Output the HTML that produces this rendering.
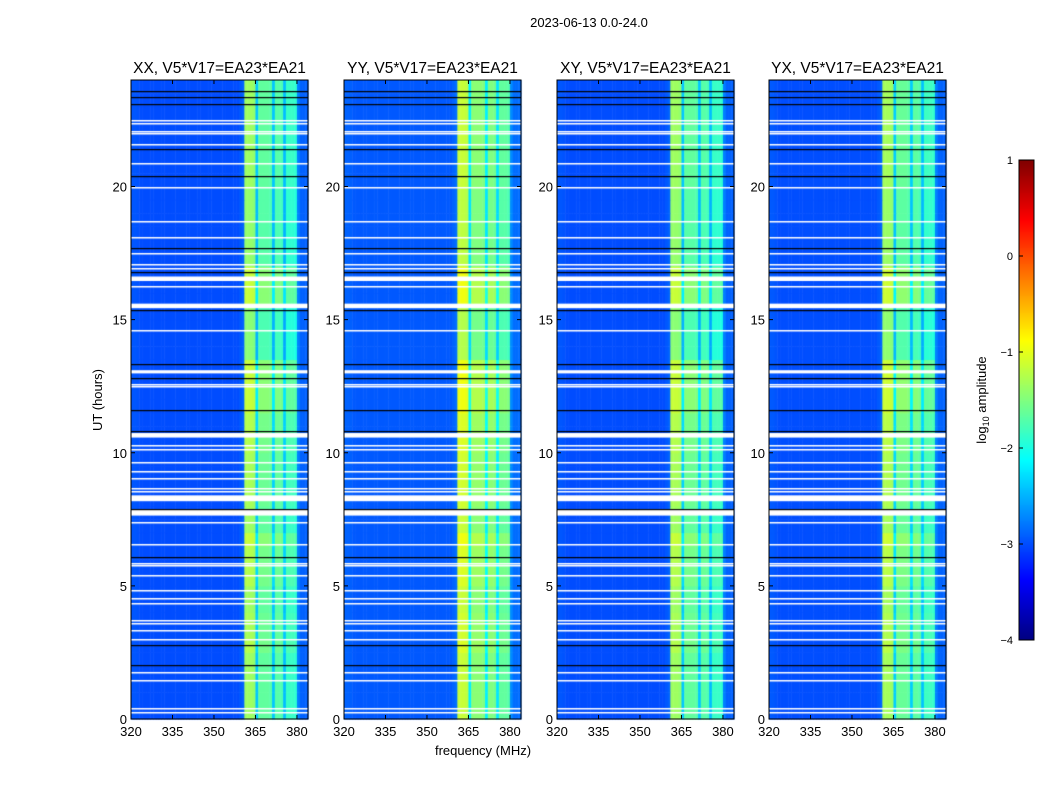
<!DOCTYPE html>
<html><head><meta charset="utf-8"><style>
body{margin:0;background:#fff;}
#wrap{position:relative;width:1050px;height:800px;overflow:hidden;font-family:"Liberation Sans",sans-serif;}
canvas,svg{position:absolute;left:0;top:0;}
</style></head><body>
<div id="wrap">
<canvas id="cv" width="1050" height="800"></canvas>
<svg id="sv" width="1050" height="800"></svg>
</div>
<script>
// ---- data ----
const panelTitles = ["XX, V5*V17=EA23*EA21","YY, V5*V17=EA23*EA21","XY, V5*V17=EA23*EA21","YX, V5*V17=EA23*EA21"];
const panelGain = [0, 0.2, 0, 0.03];
const freqStart = 320; // 1-MHz bins
const freqProfile = [
-2.95,-2.95,-2.97,-3.0,-3.0,-3.0,-3.0,-3.0,-3.0,-3.0,
-3.0,-3.0,-3.0,-3.0,-3.0,-3.0,-3.0,-3.0,-3.0,-3.0,
-3.0,-3.0,-3.0,-3.0,-3.0,-3.0,-3.0,-3.0,-3.0,-3.0,
-3.0,-3.0,-3.0,-3.0,-3.0,-3.0,-3.0,-3.0,-3.0,-2.95,
-2.9,-1.45,-1.45,-1.45,-1.5,-2.5,-1.75,-1.75,-1.75,-1.75,
-1.8,-2.5,-1.8,-1.8,-1.85,-2.55,-1.95,-1.95,-1.95,-2.0,
-2.75,-2.9,-2.9,-2.9];
const timeBoost = [0.1,0.1,0.1,0.1,0.1,0.2,0.15,0.15,0.1,0.1,0.2,0.2,0.2,0.3,0.1,0.1,0.15,0.15,0.15,0.15,0.2,0.2,0.2,0.3,0.3,0.3,0.3,0.0,0.0,0.0,0.0,0.3,0.3,0.3,0.05,0.05,0.05,0.05,0.05,0.05,0.1,0.1,0.1,0.1,0.1,0.1,0.1,0.1];
const flagRanges = [[16.45,16.62],[15.43,15.6],[12.98,13.1],[10.57,10.74],[8.18,8.4],[7.64,7.85]];
const thinFlags = [22.5,22.4,22.1,22.0,21.6,20.9,20.0,18.7,18.1,17.5,17.1,16.95,16.25,14.6,12.57,12.5,10.28,10.13,9.64,9.3,9.04,8.67,8.56,7.4,6.57,5.85,5.78,5.4,4.84,4.54,4.35,3.7,3.6,3.34,3.0,1.77,1.46,0.41,0.26];
const darkLines = [23.6,23.35,23.1,21.4,20.4,17.7,16.8,15.38,13.33,12.8,11.6,10.8,7.88,6.1,2.78,2.03];
const xTicks = [320,335,350,365,380];
const yTicks = [0,5,10,15,20];
const cbTicks = [1,0,-1,-2,-3,-4];

// ---- layout ----
const panelX = [131,344,557,769], pW = 177, pTop = 80, pBot = 719;
const fMin = 320, fMax = 384, tMin = 0, tMax = 24;
const cbX = 1019, cbW = 15, cbTop = 160, cbBot = 640, vMin = -4, vMax = 1;
function xs(p,f){return panelX[p] + (f-fMin)/(fMax-fMin)*pW;}
function ys(h){return pBot - (h-tMin)/(tMax-tMin)*(pBot-pTop);}
function cbY(v){return cbBot - (v-vMin)/(vMax-vMin)*(cbBot-cbTop);}
function jet(v){
  let t=(v-vMin)/(vMax-vMin); t=Math.max(0,Math.min(1,t));
  const c=x=>Math.round(255*Math.max(0,Math.min(1,x)));
  return `rgb(${c(1.5-Math.abs(4*t-3))},${c(1.5-Math.abs(4*t-2))},${c(1.5-Math.abs(4*t-1))})`;
}
const ctx = document.getElementById('cv').getContext('2d');
for(let p=0;p<4;p++){
  for(let ti=0;ti<timeBoost.length;ti++){
    const h0=ti*0.5,h1=h0+0.5;
    for(let fi=0;fi<freqProfile.length;fi++){
      const base=freqProfile[fi];
      const inBand = base > -2.7;
      const v = base + (inBand ? timeBoost[ti] + panelGain[p] : panelGain[p]*0.3);
      ctx.fillStyle=jet(v);
      const x0=xs(p,freqStart+fi), x1=xs(p,freqStart+fi+1);
      ctx.fillRect(x0,ys(h1),x1-x0+0.5,ys(h0)-ys(h1)+0.5);
    }
  }
  ctx.fillStyle='#fff';
  flagRanges.forEach(r=>{ctx.fillRect(panelX[p],ys(r[1]),pW,ys(r[0])-ys(r[1]));});
  thinFlags.forEach(h=>{ctx.fillRect(panelX[p],Math.round(ys(h)),pW,1.5);});
  ctx.fillStyle='#000';
  darkLines.forEach(h=>{ctx.fillRect(panelX[p],Math.round(ys(h)),pW,1.2);});
}
// colorbar
for(let y=cbTop;y<cbBot;y++){
  const v = vMin + (cbBot-y)/(cbBot-cbTop)*(vMax-vMin);
  ctx.fillStyle=jet(v); ctx.fillRect(cbX,y,cbW,1);
}

// ---- SVG overlay ----
const NS='http://www.w3.org/2000/svg', sv=document.getElementById('sv');
function el(tag,attrs,txt){const e=document.createElementNS(NS,tag);for(const k in attrs)e.setAttribute(k,attrs[k]);if(txt!==undefined)e.textContent=txt;sv.appendChild(e);return e;}
let t=el('text',{x:589,y:27,'font-size':13,'text-anchor':'middle'},'2023-06-13 0.0-24.0');


for(let p=0;p<4;p++){
  const g=el('rect',{x:panelX[p],y:pTop,width:pW,height:pBot-pTop,fill:'none',stroke:'#000','stroke-width':1});
  
  
  const tt=el('text',{x:panelX[p]+pW/2,y:73,'font-size':15.5,'text-anchor':'middle'},panelTitles[p]);
  
  
  xTicks.forEach(f=>{
    const x=xs(p,f);
    el('line',{x1:x,y1:pBot,x2:x,y2:pBot-4,stroke:'#000'});
    el('line',{x1:x,y1:pTop,x2:x,y2:pTop+4,stroke:'#000'});
    const l=el('text',{x:x,y:736,'font-size':13,'text-anchor':'middle'},String(f));
    
    
  });
  yTicks.forEach(h=>{
    const y=ys(h);
    el('line',{x1:panelX[p],y1:y,x2:panelX[p]+4,y2:y,stroke:'#000'});
    el('line',{x1:panelX[p]+pW,y1:y,x2:panelX[p]+pW-4,y2:y,stroke:'#000'});
    const l=el('text',{x:panelX[p]-4,y:y+5,'font-size':13,'text-anchor':'end'},String(h));
    
    
  });
}
t=el('text',{x:483,y:755,'font-size':13,'text-anchor':'middle'},'frequency (MHz)');


t=el('text',{x:102,y:400,'font-size':13,'text-anchor':'middle',transform:'rotate(-90 102 400)'},'UT (hours)');


const cb=el('rect',{x:cbX,y:cbTop,width:cbW,height:cbBot-cbTop,fill:'none',stroke:'#000'});


cbTicks.forEach(v=>{
  const y=cbY(v);
  el('line',{x1:cbX,y1:y,x2:cbX+4,y2:y,stroke:'#000'});
  const l=el('text',{x:1013,y:y+4,'font-size':11,'text-anchor':'end'},v<0?'\u2212'+(-v):String(v));
  
  
});
t=el('text',{x:986,y:400,'font-size':13,'text-anchor':'middle',transform:'rotate(-90 986 400)'});
t.innerHTML='log<tspan font-size="9" dy="3">10</tspan><tspan dy="-3"> amplitude</tspan>';


</script>
</body></html>
